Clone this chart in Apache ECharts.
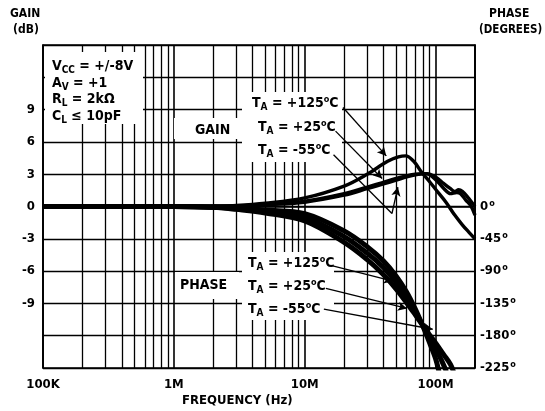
<!DOCTYPE html>
<html>
<head>
<meta charset="utf-8">
<script src="https://cdn.jsdelivr.net/npm/echarts@6/dist/echarts.min.js"></script>
<style>html,body{margin:0;padding:0;background:#fff}#c{width:545px;height:411px}</style>
</head>
<body>
<div id="c"></div>
<script>
// ---- data ----
const xTickValues = [1e5, 1e6, 1e7, 1e8];
const xTickLabels = ['100K', '1M', '10M', '100M'];
const minorFreqs = [2e5,3e5,4e5,5e5,6e5,7e5,8e5,9e5, 2e6,3e6,4e6,5e6,6e6,7e6,8e6,9e6, 2e7,3e7,4e7,5e7,6e7,7e7,8e7,9e7];
const gainTickLabels = [-9, -6, -3, 0, 3, 6, 9];
const phaseTickLabels = [0, -45, -90, -135, -180, -225];

const gain125F = [1e5, 1e6, 2e6, 3e6, 5e6, 1e7, 2e7, 3e7, 4.3e7, 5.2e7, 5.9e7, 6.8e7, 7.8e7, 9e7, 1e8, 1.2e8, 1.4e8, 1.6e8, 1.8e8, 2e8];
const gain125V = [0, 0, 0.05, 0.1, 0.3, 0.8, 1.9, 3.0, 4.2, 4.6, 4.7, 4.2, 3.2, 2.3, 1.6, 0.4, -0.8, -1.7, -2.4, -3.0];
const gain25F = [1e5, 1e6, 2e6, 3e6, 5e6, 1e7, 2e7, 3e7, 4e7, 5e7, 6e7, 7e7, 8.5e7, 1e8, 1.15e8, 1.3e8, 1.45e8, 1.55e8, 1.7e8, 1.85e8, 2e8];
const gain25V = [0, 0, 0.02, 0.05, 0.2, 0.5, 1.2, 1.8, 2.25, 2.6, 2.85, 3.0, 3.05, 2.5, 1.7, 1.2, 1.3, 1.2, 0.6, 0.1, -0.8];
const gainM55F = [1e5, 1e6, 2e6, 3e6, 5e6, 1e7, 2e7, 3e7, 4e7, 5e7, 6e7, 7e7, 8.5e7, 1e8, 1.15e8, 1.3e8, 1.4e8, 1.5e8, 1.6e8, 1.75e8, 2e8];
const gainM55V = [0, 0, 0.02, 0.05, 0.15, 0.4, 1.05, 1.65, 2.1, 2.45, 2.75, 2.95, 3.05, 2.75, 2.15, 1.65, 1.4, 1.55, 1.4, 0.9, 0.0];

const phase125F = [1e5, 1e6, 2e6, 3e6, 5e6, 1e7, 2e7, 3e7, 4e7, 5e7, 6e7, 7e7, 8e7, 9e7, 1e8, 1.06e8];
const phase125V = [0, 0, -1, -2, -5, -10, -34, -56, -76, -97, -119, -143, -167, -190, -212, -230];
const phase25F = [1e5, 1e6, 2e6, 3e6, 5e6, 1e7, 2e7, 3e7, 4e7, 5e7, 6e7, 7e7, 8e7, 9e7, 1e8, 1.1e8, 1.21e8];
const phase25V = [0, 0, -1, -3, -7, -15, -42, -65, -85, -106, -127, -147, -166, -183, -198, -213, -230];
const phaseM55F = [1e5, 1e6, 2e6, 3e6, 5e6, 1e7, 2e7, 3e7, 4e7, 5e7, 6e7, 7e7, 8e7, 9e7, 1e8, 1.15e8, 1.3e8, 1.37e8];
const phaseM55V = [0, 0, -1, -4, -9, -20, -50, -74, -95, -115, -134, -151, -166, -179, -190, -206, -220, -230];

// ---- chart ----
const FONT = "'Liberation Sans Narrow','DejaVu Sans Condensed','Roboto Condensed',Arial,sans-serif";
const zip = (f, v) => f.map((x, i) => [x, v[i]]);
const rich = {
  b: {fontFamily: FONT, fontWeight: 'bold', fontSize: 14, fill: '#000', lineHeight: 16},
  s: {fontFamily: FONT, fontWeight: 'bold', fontSize: 10, fill: '#000', lineHeight: 10, padding: [9, 0, 0, 0]},
  u: {fontFamily: FONT, fontWeight: 'bold', fontSize: 9, fill: '#000', lineHeight: 9, padding: [0, 0, 7, 0]}
};
function txt(x, y, text) {
  return {type: 'text', x: x, y: y, z: 6, style: {text: text, rich: rich, fill: '#000', font: 'bold 14px ' + FONT, verticalAlign: 'middle'}};
}
function rect(x, y, w, h) {
  return {type: 'rect', z: 3, shape: {x: x, y: y, width: w, height: h}, style: {fill: '#fff'}};
}
function curve(name, f, v, yAxisIndex, width, arrows) {
  const s = {
    name: name, type: 'line', xAxisIndex: 0, yAxisIndex: yAxisIndex, z: 5,
    data: zip(f, v), showSymbol: false, smooth: 0.35, lineStyle: {color: '#000', width: width}, silent: true, animation: false
  };
  if (arrows) {
    s.markLine = {silent: true, animation: false, z: 6, symbolSize: [7, 9],
      label: {show: false}, lineStyle: {color: '#000', width: 1.3, type: 'solid'},
      data: arrows};
  }
  return s;
}
function arrow(a, b, head) {
  return [{coord: a, symbol: 'none'}, {coord: b, symbol: head === false ? 'none' : 'arrow'}];
}

const chart = echarts.init(document.getElementById('c'), null, {renderer: 'canvas'});
const option = {
  animation: false,
  grid: {left: 43, right: 70, top: 45, bottom: 43, show: true, borderColor: '#000', borderWidth: 1.5, backgroundColor: 'transparent'},
  xAxis: {
    type: 'log', logBase: 10, min: 1e5, max: 2e8,
    axisLine: {show: true, lineStyle: {color: '#000', width: 1.5}},
    axisTick: {show: false},
    splitLine: {show: true, lineStyle: {color: '#000', width: 1.6}},
    axisLabel: {
      margin: 10, color: '#000', fontFamily: FONT, fontWeight: 'bold', fontSize: 13,
      formatter: v => { const i = xTickValues.findIndex(t => Math.abs(t - v) / t < 1e-6); return i >= 0 ? xTickLabels[i] : ''; }
    }
  },
  yAxis: [{
    type: 'value', min: -15, max: 15, interval: 3, position: 'left',
    axisLine: {show: true, lineStyle: {color: '#000', width: 1.5}},
    axisTick: {show: false},
    splitLine: {show: true, lineStyle: {color: '#000', width: 1.3}},
    axisLabel: {margin: 8, color: '#000', fontFamily: FONT, fontWeight: 'bold', fontSize: 13,
      formatter: v => gainTickLabels.indexOf(v) >= 0 ? String(v) : ''}
  }, {
    type: 'value', min: -225, max: 225, interval: 45, position: 'right',
    axisLine: {show: true, lineStyle: {color: '#000', width: 1.5}},
    axisTick: {show: false},
    splitLine: {show: false},
    axisLabel: {margin: 5, color: '#000', fontFamily: FONT, fontWeight: 'bold', fontSize: 13,
      formatter: v => phaseTickLabels.indexOf(v) >= 0 ? (v + '{o|o}') : '',
      rich: {o: {fontFamily: FONT, fontWeight: 'bold', fontSize: 9, color: '#000', padding: [0, 0, 6, 1]}}}
  }],
  graphic: [
    // titles
    {type: 'text', x: 10, y: 8, z: 6, style: {text: 'GAIN', font: 'bold 12px ' + FONT, fill: '#000'}},
    {type: 'text', x: 13, y: 24, z: 6, style: {text: '(dB)', font: 'bold 12px ' + FONT, fill: '#000'}},
    {type: 'text', x: 489, y: 8, z: 6, style: {text: 'PHASE', font: 'bold 12px ' + FONT, fill: '#000'}},
    {type: 'text', x: 479, y: 24, z: 6, style: {text: '(DEGREES)', font: 'bold 11.5px ' + FONT, fill: '#000'}},
    {type: 'text', x: 182, y: 394, z: 6, style: {text: 'FREQUENCY (Hz)', font: 'bold 13px ' + FONT, fill: '#000'}},
    // white boxes
    rect(45, 52, 98, 72),
    rect(174, 118, 78, 21),
    rect(242, 92, 100, 70),
    rect(175, 272, 64, 27),
    rect(242, 252, 92, 68),
    // conditions
    txt(52, 66, '{b|V}{s|CC}{b| = +/-8V}'),
    txt(52, 83, '{b|A}{s|V}{b| = +1}'),
    txt(52, 99, '{b|R}{s|L}{b| = 2kΩ}'),
    txt(52, 116, '{b|C}{s|L}{b| ≤ 10pF}'),
    // labels
    txt(195, 130, '{b|GAIN}'),
    txt(180, 285, '{b|PHASE}'),
    txt(252, 103, '{b|T}{s|A}{b| = +125}{u|o}{b|C}'),
    txt(258, 127, '{b|T}{s|A}{b| = +25}{u|o}{b|C}'),
    txt(258, 150, '{b|T}{s|A}{b| = -55}{u|o}{b|C}'),
    txt(248, 263, '{b|T}{s|A}{b| = +125}{u|o}{b|C}'),
    txt(248, 286, '{b|T}{s|A}{b| = +25}{u|o}{b|C}'),
    txt(248, 309, '{b|T}{s|A}{b| = -55}{u|o}{b|C}')
  ],
  series: [
    {
      type: 'line', xAxisIndex: 0, yAxisIndex: 0, z: 1, data: [], silent: true,
      markLine: {silent: true, animation: false, z: 1, symbol: 'none', label: {show: false},
        lineStyle: {color: '#000', width: 1.3, type: 'solid'},
        data: minorFreqs.map(f => ({xAxis: f}))}
    },
    curve('Gain +125', gain125F, gain125V, 0, 3.4, [arrow([1.96e7, 9.2], [4.2e7, 4.7])]),
    curve('Gain +25', gain25F, gain25V, 0, 3.4, [arrow([1.72e7, 7.0], [3.9e7, 2.6])]),
    curve('Gain -55', gainM55F, gainM55V, 0, 3.4, [arrow([1.66e7, 4.8], [4.64e7, -0.65], false), arrow([4.64e7, -0.65], [5.15e7, 1.8])]),
    curve('Phase +125', phase125F, phase125V, 1, 5, [arrow([1.58e7, -82], [4.72e7, -104])]),
    curve('Phase +25', phase25F, phase25V, 1, 5, [arrow([1.45e7, -114], [6.04e7, -142])]),
    curve('Phase -55', phaseM55F, phaseM55V, 1, 5, [arrow([1.4e7, -143], [9.5e7, -171])])
  ]
};
chart.setOption(option);
</script>
</body>
</html>
